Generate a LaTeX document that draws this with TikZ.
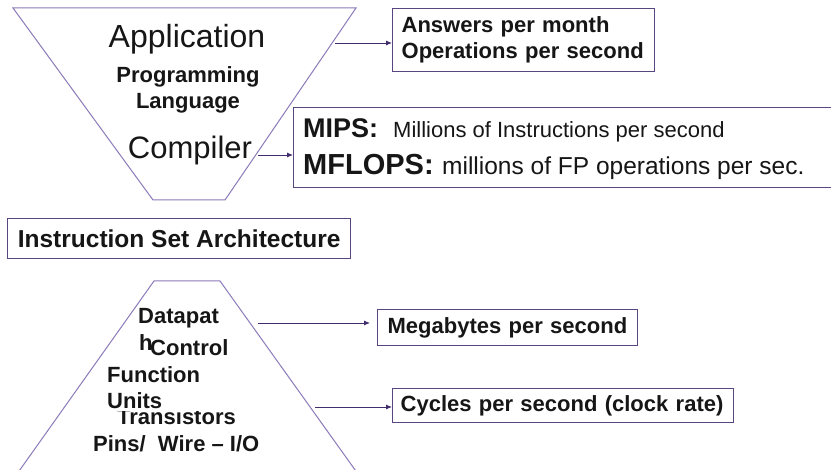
\documentclass[tikz,border=0pt]{standalone}
\usepackage{fontspec}
\setmainfont{Liberation Sans}
\usetikzlibrary{arrows.meta}
\definecolor{funnelline}{RGB}{140,122,186}
\definecolor{boxline}{RGB}{88,70,128}
\definecolor{arrowline}{RGB}{64,44,110}
\definecolor{ink}{RGB}{22,22,22}
\newcommand\fsz[1]{\fontsize{#1}{#1}\selectfont}
\begin{document}
\begin{tikzpicture}[x=1pt,y=-1pt,
  funnel/.style={draw=funnelline, line width=1pt},
  box/.style={draw=boxline, line width=1.3pt, inner ysep=0pt, align=left,
              text=ink, font=\bfseries\fontsize{22}{26}\selectfont},
  lbl/.style={inner sep=0pt, anchor=base west, text=ink, font=\bfseries\fsz{22}},
  big/.style={inner sep=0pt, anchor=base, text=ink, font=\fsz{32}},
  arr/.style={draw=arrowline, line width=0.9pt, -{Latex[length=6pt,width=5pt]}}]
\useasboundingbox (0,0) rectangle (831,470);
\fill[white] (0,0) rectangle (831,470);

% upper (inverted) funnel: software levels
\draw[funnel] (13,8) -- (356,8) -- (225,200) -- (153,200) -- cycle;
\node[big] (app) at (187,48) {Application};
\node[lbl, anchor=base] (prog) at (188,83) {Programming};
\node[lbl, anchor=base] (lang) at (188,109) {Language};
\node[big, font=\fsz{31}] (comp) at (190,159) {Compiler};

% lower funnel: hardware levels
\draw[funnel] (12,481) -- (154,281) -- (220,281) -- (363,481);
\node[lbl] (dp) at (138,324) {Datapat};
\node[lbl] (dph) at (139,351) {h};
\node[lbl] (ctl) at (150,356) {Control};
\node[lbl] (fn) at (107,383) {Function};
\node[lbl] (tr) at (117,425) {Transistors};
\node[lbl, fill=white, text depth=2pt, text height=16pt, text width=125pt, align=left]
  (un) at (107,409) {Units};
\node[lbl] (pins) at (93,452) {Pins/~ Wire -- I/O};

% interface between the two funnels
\node[box, anchor=north west, minimum height=40pt, minimum width=343pt, inner xsep=0pt,
      align=center, font=\bfseries\fsz{24.5}] (isa) at (7,218) {Instruction Set Architecture};

% metric boxes
\node[box, anchor=north west, minimum height=63pt, inner xsep=9pt, text width=244pt]
  (ans) at (392,8) {Answers per month\\Operations per second};
\node[draw=boxline, line width=1.3pt, anchor=north west, minimum width=560pt,
      minimum height=80pt, inner sep=0pt] (mips) at (293,107) {};
\node[lbl, font=\bfseries\fsz{27}] (mipsk) at (303,138) {MIPS:};
\node[lbl, font=\fsz{22}] (mipsv) at (393,138) {Millions of Instructions per second};
\node[lbl, font=\bfseries\fsz{29}] (flopk) at (303,175) {MFLOPS:};
\node[lbl, font=\fsz{24.5}] (flopv) at (442,175) {millions of FP operations per sec.};
\node[box, anchor=north west, minimum height=36pt, inner xsep=10pt, text width=240pt]
  (mb) at (377,309) {Megabytes per second};
\node[box, anchor=north west, minimum height=34pt, inner xsep=8pt, text width=325pt]
  (cyc) at (392,388) {Cycles per second (clock rate)};

% connectors
\coordinate (appR) at (335,43);
\coordinate (compR) at (258,155);
\coordinate (dpR) at (258,323);
\coordinate (trR) at (315,407);
\draw[arr] (appR) -- (appR -| ans.west);
\draw[arr] (compR) -- (compR -| mips.west);
\draw[arr, shorten >=7pt] (dpR) -- (dpR -| mb.west);
\draw[arr] (trR) -- (trR -| cyc.west);
\end{tikzpicture}
\end{document}
